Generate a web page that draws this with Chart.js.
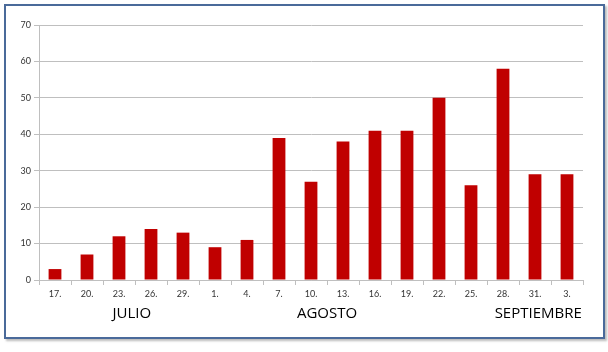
<!DOCTYPE html>
<html>
<head>
<meta charset="utf-8">
<script src="https://cdn.jsdelivr.net/npm/chart.js@4/dist/chart.umd.min.js"></script>
<style>
  html, body { margin: 0; padding: 0; background: #fff; }
  #frame {
    position: absolute; left: 4px; top: 4px;
    width: 597px; height: 331px;
    border: 2px solid #4a6a9a;
    box-shadow: 2px 2px 2px rgba(120,120,120,0.5);
    background: #fff;
  }
  #wrap { position: absolute; left: 1px; top: 1px; width: 595px; height: 329px; }
</style>
</head>
<body>
<div id="frame"><div id="wrap"><canvas id="myChart"></canvas></div></div>
<script>
// datos
var dias = ['17.', '20.', '23.', '26.', '29.', '1.', '4.', '7.', '10.', '13.', '16.', '19.', '22.', '25.', '28.', '31.', '3.'];
var valores = [3, 7, 12, 14, 13, 9, 11, 39, 27, 38, 41, 41, 50, 26, 58, 29, 29];
var meses = ['JULIO', 'AGOSTO', 'SEPTIEMBRE'];
var mesesPos = [2.4, 8.5, 15.1]; // categoria donde va centrado el mes

var gris = '#bfbfbf';

// etiquetas de los meses debajo del eje
var mesesPlugin = {
  id: 'meses',
  afterDraw: function(chart) {
    var ctx = chart.ctx;
    var x = chart.scales.x;
    ctx.save();
    ctx.font = '15px "Open Sans", sans-serif';
    ctx.fillStyle = '#000';
    ctx.textAlign = 'center';
    ctx.textBaseline = 'middle';
    for (var i = 0; i < meses.length; i++) {
      var px = x.getPixelForValue(mesesPos[i]);
      ctx.fillText(meses[i], px, chart.chartArea.bottom + 34);
    }
    ctx.restore();
  }
};

var ctx = document.getElementById('myChart').getContext('2d');
var myChart = new Chart(ctx, {
  type: 'bar',
  data: {
    labels: dias,
    datasets: [{
      data: valores,
      backgroundColor: '#c00000',
      borderWidth: 0,
      barPercentage: 0.4,
      categoryPercentage: 1
    }]
  },
  options: {
    responsive: true,
    maintainAspectRatio: false,
    animation: false,
    layout: { padding: { top: 18, right: 19, left: 0, bottom: 0 } },
    plugins: { legend: { display: false }, tooltip: { enabled: false } },
    scales: {
      x: {
        grid: { offset: true, drawOnChartArea: false, color: gris, tickLength: 5 },
        border: { color: gris },
        ticks: { color: '#333', font: { size: 9, family: 'Lato, sans-serif' }, padding: 4, maxRotation: 0, autoSkip: false },
        afterFit: function(s) { s.height = 56; }
      },
      y: {
        min: 0, max: 70,
        grid: { color: gris, tickLength: 5 },
        border: { color: gris },
        ticks: { stepSize: 10, color: '#333', font: { size: 9, family: 'Lato, sans-serif' }, padding: 3 },
        afterFit: function(s) { s.width = 32; }
      }
    }
  },
  plugins: [mesesPlugin]
});
</script>
</body>
</html>
